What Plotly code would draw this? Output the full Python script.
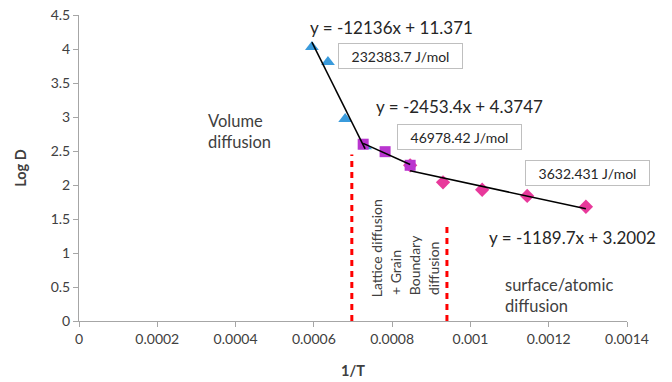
import numpy as np
import plotly.graph_objects as go

# --- data ---
tri_x = [0.000595, 0.000636, 0.000680, 0.000731]
tri_y = [4.03, 3.81, 2.97, 2.57]
sq_x = [0.000726, 0.000782, 0.000846]
sq_y = [2.60, 2.49, 2.29]
dia_x = [0.000846, 0.000930, 0.001030, 0.001145, 0.001295]
dia_y = [2.29, 2.04, 1.93, 1.84, 1.68]

boundary_x = [0.000697, 0.000940]
boundary_top = [2.45, 1.42]

x_ticks = [0, 0.0002, 0.0004, 0.0006, 0.0008, 0.001, 0.0012, 0.0014]
x_ticktext = ["0", "0.0002", "0.0004", "0.0006", "0.0008", "0.001", "0.0012", "0.0014"]
y_ticks = [0, 0.5, 1, 1.5, 2, 2.5, 3, 3.5, 4, 4.5]
y_ticktext = ["0", "0.5", "1", "1.5", "2", "2.5", "3", "3.5", "4", "4.5"]

equations = ["y = -12136x + 11.371", "y = -2453.4x + 4.3747", "y = -1189.7x + 3.2002"]
energies = ["232383.7 J/mol", "46978.42 J/mol", "3632.431 J/mol"]
regime_lines = ["Lattice diffusion", "+ Grain", "Boundary", "diffusion"]

FONT = "Lato"
TXT = "#404040"

# approximate Lato advance widths (em) for bottom-aligning rotated lines
_W = {"L": .50, "a": .51, "t": .34, "i": .23, "c": .47, "e": .53, " ": .19,
      "d": .58, "f": .32, "u": .57, "s": .43, "o": .58, "n": .57, "+": .58,
      "G": .69, "r": .37, "B": .62, "y": .51}


def text_len(s, size):
    return sum(_W.get(ch, .55) for ch in s) * size * 0.92


fig = go.Figure()

# boundaries (red dashed)
for bx, bt in zip(boundary_x, boundary_top):
    fig.add_trace(go.Scatter(x=[bx, bx], y=[0, bt], mode="lines",
                             line=dict(color="#FF0000", width=3, dash="6px,5px"),
                             hoverinfo="skip", showlegend=False))

fig.add_trace(go.Scatter(x=tri_x, y=tri_y, mode="markers",
                         marker=dict(symbol="triangle-up", size=12, color="#3A9BDC"),
                         showlegend=False))
fig.add_trace(go.Scatter(x=dia_x, y=dia_y, mode="markers",
                         marker=dict(symbol="diamond", size=11, color="#E8399B"),
                         showlegend=False))
fig.add_trace(go.Scatter(x=sq_x, y=sq_y, mode="markers",
                         marker=dict(symbol="square", size=11, color="#B935CF"),
                         showlegend=False))

# linear trendlines fitted to each series
for xs, ys in [(tri_x, tri_y), (sq_x, sq_y), (dia_x, dia_y)]:
    m, b = np.polyfit(xs, ys, 1)
    xe = np.array([min(xs), max(xs)])
    fig.add_trace(go.Scatter(x=xe, y=m * xe + b, mode="lines",
                             line=dict(color="black", width=1.5),
                             hoverinfo="skip", showlegend=False))

ann = []
eq_pos = [(0.000798, 4.31), (0.000972, 3.16), (0.001260, 1.23)]
for t, (ax_, ay_) in zip(equations, eq_pos):
    ann.append(dict(x=ax_, y=ay_, text=t, showarrow=False,
                    font=dict(family=FONT, size=17, color="#262626")))
box_pos = [(0.000821, 3.89), (0.000973, 2.70), (0.001300, 2.17)]
for t, (bx_, by_) in zip(energies, box_pos):
    ann.append(dict(x=bx_, y=by_, text=t, showarrow=False, width=121, height=22,
                    bordercolor="#BFBFBF", borderwidth=1, bgcolor="white",
                    font=dict(family=FONT, size=14, color="#262626")))
ann.append(dict(x=0.000324, y=2.78, text="Volume<br>diffusion", showarrow=False,
                xanchor="left", align="left",
                font=dict(family=FONT, size=16.5, color=TXT)))
ann.append(dict(x=0.001083, y=0.38, text="surface/atomic<br>diffusion", showarrow=False,
                xanchor="left", align="left",
                font=dict(family=FONT, size=16.5, color=TXT)))
regime_x = [0.000761, 0.000810, 0.000858, 0.000906]
RSIZE = 14
for t, rx in zip(regime_lines, regime_x):
    ann.append(dict(x=rx, y=0.41, text=t, showarrow=False, textangle=-90,
                    yshift=text_len(t, RSIZE) / 2,
                    font=dict(family=FONT, size=RSIZE, color=TXT)))

fig.update_layout(
    width=672, height=382,
    margin=dict(l=79, r=45, t=15, b=61),
    paper_bgcolor="white", plot_bgcolor="white",
    font=dict(family=FONT, size=14, color=TXT),
    annotations=ann,
    xaxis=dict(range=[0, 0.0014], tickvals=x_ticks, ticktext=x_ticktext,
               showgrid=False, zeroline=False, showline=True, linecolor="#A6A6A6",
               linewidth=1, ticks="outside", tickcolor="#A6A6A6", ticklen=5,
               automargin=False,
               title=dict(text="<b>1/T</b>", font=dict(size=14.5, color=TXT), standoff=20)),
    yaxis=dict(range=[0, 4.5], tickvals=y_ticks, ticktext=y_ticktext,
               showgrid=False, zeroline=False, showline=True, linecolor="#A6A6A6",
               linewidth=1, ticks="outside", tickcolor="#A6A6A6", ticklen=5,
               automargin=False,
               title=dict(text="<b>Log D</b>", font=dict(size=14.5, color=TXT), standoff=20)),
)

fig.write_html("out.html")
